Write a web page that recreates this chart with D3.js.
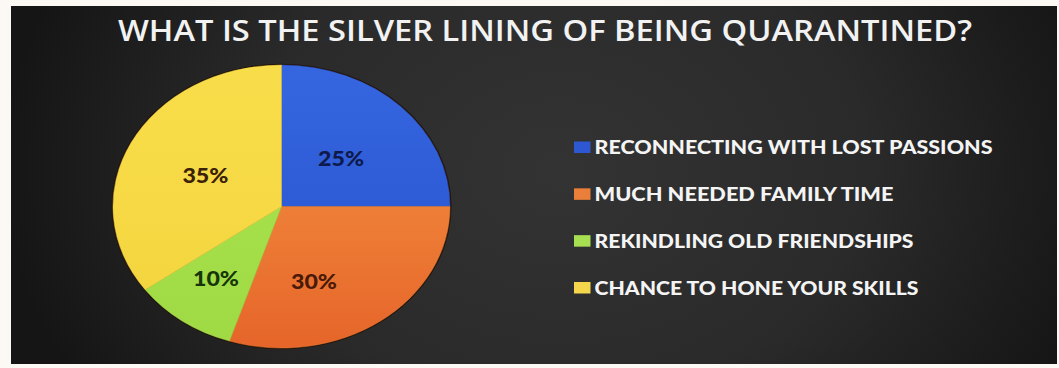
<!DOCTYPE html>
<html>
<head>
<meta charset="utf-8">
<script src="https://cdn.jsdelivr.net/npm/d3@7"></script>
<style>
  html, body { margin: 0; padding: 0; background: #fcf9f4; }
  svg { display: block; }
</style>
</head>
<body>
<svg id="chart" width="1059" height="368"></svg>
<script>
// Survey answers and their shares (percent)
const categories = [
  "RECONNECTING WITH LOST PASSIONS",
  "MUCH NEEDED FAMILY TIME",
  "REKINDLING OLD FRIENDSHIPS",
  "CHANCE TO HONE YOUR SKILLS"
];
const values = [25, 30, 10, 35];
const valueLabels = ["25%", "30%", "10%", "35%"];
const titleText = "WHAT IS THE SILVER LINING OF BEING QUARANTINED?";

// Styling
const sliceColors = ["#2e5bd6", "#ee7f37", "#a5e04b", "#f6d944"];
const sliceTop    = ["#3566e0", "#f39a52", "#addf55", "#f8dd4a"];
const sliceBottom = ["#2a52c8", "#e6652a", "#9fd943", "#f2d23c"];
const swatchColors = ["#2e57d2", "#ea7f39", "#a6df52", "#f3d64b"];
const labelColors = ["#0e1a4c", "#4a1a08", "#16360a", "#3a2208"];
const labelNudge = [[0, 3], [-17, 18], [-16, 15], [-1, 2]];

const W = 1059, H = 368;
const svg = d3.select("#chart");
const defs = svg.append("defs");

// Dark slide panel with a soft vignette
const bg = defs.append("radialGradient")
  .attr("id", "panelGrad")
  .attr("gradientUnits", "userSpaceOnUse")
  .attr("cx", 560).attr("cy", 170).attr("r", 560)
  .attr("gradientTransform", "translate(560,170) scale(1,0.75) translate(-560,-170)");
bg.append("stop").attr("offset", "0%").attr("stop-color", "#333333");
bg.append("stop").attr("offset", "55%").attr("stop-color", "#2a2a2a");
bg.append("stop").attr("offset", "100%").attr("stop-color", "#151515");

const panel = { x: 11, y: 6, w: 1046, h: 358 };
svg.append("rect")
  .attr("x", panel.x).attr("y", panel.y)
  .attr("width", panel.w).attr("height", panel.h)
  .attr("fill", "url(#panelGrad)");

// Title
svg.append("text")
  .attr("x", 118).attr("y", 41)
  .attr("textLength", 854)
  .attr("lengthAdjust", "spacingAndGlyphs")
  .attr("font-family", "'Open Sans', 'Liberation Sans', sans-serif")
  .attr("font-size", 29)
  .attr("font-weight", 600)
  .attr("fill", "#f2f2f2")
  .text(titleText);

// Pie: drawn as a circle and squashed vertically into an ellipse
const cx = 281.5, cy = 206.5, rx = 168.5, ry = 141.5;
const sy = ry / rx;

const pie = d3.pie().sort(null).value(d => d);
const arcs = pie(values);
const arc = d3.arc().innerRadius(0).outerRadius(rx);
const labelArc = d3.arc().innerRadius(rx * 0.5).outerRadius(rx * 0.5);

arcs.forEach((a, i) => {
  const g = defs.append("linearGradient")
    .attr("id", "slice" + i)
    .attr("gradientUnits", "userSpaceOnUse")
    .attr("x1", 0).attr("y1", -rx).attr("x2", 0).attr("y2", rx);
  g.append("stop").attr("offset", "0%").attr("stop-color", sliceTop[i]);
  g.append("stop").attr("offset", "50%").attr("stop-color", sliceColors[i]);
  g.append("stop").attr("offset", "100%").attr("stop-color", sliceBottom[i]);
});

const pieG = svg.append("g")
  .attr("transform", `translate(${cx},${cy}) scale(1,${sy})`);

// dark rim around the pie
pieG.append("circle")
  .attr("r", rx + 1.5)
  .attr("fill", "#24140a");

pieG.selectAll("path.slice")
  .data(arcs)
  .join("path")
  .attr("class", "slice")
  .attr("d", arc)
  .attr("fill", (d, i) => `url(#slice${i})`)
  .attr("stroke", (d, i) => sliceColors[i])
  .attr("stroke-width", 0.5);

// Percentage labels
svg.append("g")
  .selectAll("text")
  .data(arcs)
  .join("text")
  .attr("x", (d, i) => cx + labelArc.centroid(d)[0] + labelNudge[i][0])
  .attr("y", (d, i) => cy + labelArc.centroid(d)[1] * sy + labelNudge[i][1] + 7)
  .attr("text-anchor", "middle")
  .attr("font-family", "Lato, 'Open Sans', sans-serif")
  .attr("font-weight", 900)
  .attr("font-size", 20)
  .attr("textLength", 46)
  .attr("lengthAdjust", "spacingAndGlyphs")
  .attr("fill", (d, i) => labelColors[i])
  .text((d, i) => valueLabels[i]);

// Legend
const legendWidths = [398, 299, 319, 324];
const legendY = d3.scalePoint()
  .domain(categories)
  .range([154, 294.5]);

const legend = svg.append("g")
  .selectAll("g")
  .data(categories)
  .join("g")
  .attr("transform", d => `translate(0,${legendY(d)})`);

legend.append("rect")
  .attr("x", 574).attr("y", -12.5)
  .attr("width", 16.5).attr("height", 11.5)
  .attr("fill", (d, i) => swatchColors[i]);

legend.append("text")
  .attr("x", 594.5).attr("y", 0)
  .attr("textLength", (d, i) => legendWidths[i])
  .attr("lengthAdjust", "spacingAndGlyphs")
  .attr("font-family", "Lato, 'Open Sans', sans-serif")
  .attr("font-weight", 900)
  .attr("font-size", 19.5)
  .attr("fill", "#f4f4f4")
  .text(d => d);
</script>
</body>
</html>
